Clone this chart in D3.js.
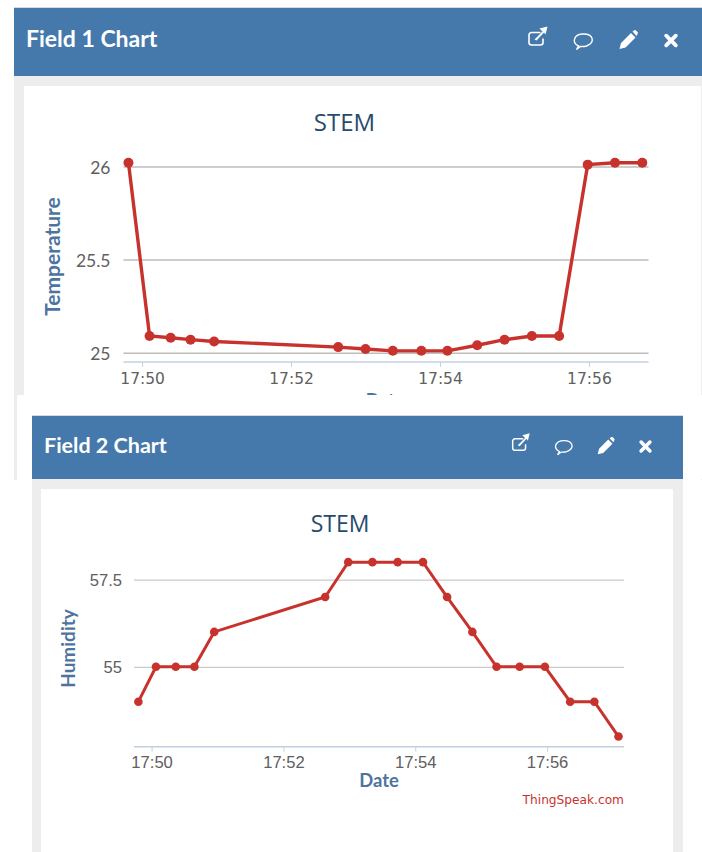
<!DOCTYPE html>
<html>
<head>
<meta charset="utf-8">
<script src="https://cdn.jsdelivr.net/npm/d3@7"></script>
<style>
  html, body { margin: 0; padding: 0; background: #fff; }
  svg { display: block; }
  .axis .domain { display: none; }
</style>
</head>
<body>
<div id="chart"></div>
<script>
// values
var field1Times = [ "17:49:49", "17:50:06", "17:50:23", "17:50:39", "17:50:58", "17:52:38", "17:53:00", "17:53:22", "17:53:45", "17:54:06", "17:54:30", "17:54:52", "17:55:14", "17:55:36", "17:55:59", "17:56:21", "17:56:43" ];
var field1Values = [ 26.02, 25.09, 25.08, 25.07, 25.06, 25.03, 25.02, 25.01, 25.01, 25.01, 25.04, 25.07, 25.09, 25.09, 26.01, 26.02, 26.02 ];
var field1Ticks = [ 25, 25.5, 26 ];

var field2Times = [ "17:49:48", "17:50:04", "17:50:22", "17:50:39", "17:50:57", "17:52:38", "17:52:59", "17:53:21", "17:53:44", "17:54:07", "17:54:29", "17:54:52", "17:55:14", "17:55:35", "17:55:58", "17:56:21", "17:56:43", "17:57:05" ];
var field2Values = [ 54, 55, 55, 55, 56, 57, 58, 58, 58, 58, 57, 56, 55, 55, 55, 54, 54, 53 ];
var field2Ticks = [ 55, 57.5 ];

var parseTime = d3.timeParse( "%H:%M:%S" );
var headerBlue = "#4679ab", panelGray = "#ededed", lineRed = "#c8322d", labelBlue = "#4d74a0";

var svg = d3.select( "#chart" ).append( "svg" )
  .attr( "width", 702 )
  .attr( "height", 852 );

// Header icons, drawn around their own centre.
function drawIcons( g, xs, cy, s ) {
  var share = g.append( "g" ).attr( "transform", "translate(" + xs[ 0 ] + "," + ( cy - 4 ) + ") scale(" + s + ")" );
  share.append( "path" )
    .attr( "d", "M3,-4 H-6 a2.5,2.5 0 0 0 -2.5,2.5 V6 a2.5,2.5 0 0 0 2.5,2.5 H3 a2.5,2.5 0 0 0 2.5,-2.5 V2" )
    .attr( "fill", "none" ).attr( "stroke", "white" ).attr( "stroke-width", 1.6 );
  share.append( "path" )
    .attr( "d", "M-3,3 L5,-5 L2,-8 L10,-10 L8,-2 L6.5,-4 L-1,4 Z" )
    .attr( "fill", "white" );

  var bubble = g.append( "g" ).attr( "transform", "translate(" + xs[ 1 ] + "," + cy + ") scale(" + s + ")" );
  bubble.append( "path" )
    .attr( "d", "M-5,5.5 C-12,2 -10,-6.5 0,-6.5 C10,-6.5 12,2 3,5.5 C0,6.3 -2,6 -3,6 L-7,9 Z" )
    .attr( "fill", "none" ).attr( "stroke", "white" ).attr( "stroke-width", 1.4 );

  var pencil = g.append( "g" ).attr( "transform", "translate(" + xs[ 2 ] + "," + cy + ") scale(" + s + ")" );
  pencil.append( "path" )
    .attr( "d", "M-8.5,8.5 L-7,2.5 L3,-7.5 L7.5,-3 L-2.5,7 Z M4.5,-9 L6,-10 a1.5,1.5 0 0 1 2,0 L9.5,-8.5 a1.5,1.5 0 0 1 0,2 L8.5,-4.5 Z" )
    .attr( "fill", "white" );

  var close = g.append( "g" ).attr( "transform", "translate(" + xs[ 3 ] + "," + cy + ") scale(" + s + ")" );
  close.append( "path" )
    .attr( "d", "M-4.8,-4.8 L4.8,4.8 M4.8,-4.8 L-4.8,4.8" )
    .attr( "stroke", "white" ).attr( "stroke-width", 3.8 ).attr( "stroke-linecap", "round" );
}

function drawPanel( o ) {
  var g = svg.append( "g" );

  g.append( "rect" )
    .attr( "x", o.left ).attr( "y", o.top - 1 )
    .attr( "width", o.right - o.left ).attr( "height", 1 )
    .style( "fill", "#d5dadf" );
  g.append( "rect" )
    .attr( "x", o.left ).attr( "y", o.top )
    .attr( "width", o.right - o.left ).attr( "height", o.headerBottom - o.top )
    .style( "fill", headerBlue );
  g.append( "rect" )
    .attr( "x", o.left ).attr( "y", o.headerBottom )
    .attr( "width", o.right - o.left ).attr( "height", o.bottom - o.headerBottom )
    .style( "fill", panelGray );
  g.append( "rect" )
    .attr( "x", o.innerLeft ).attr( "y", o.headerBottom + 10 )
    .attr( "width", o.innerRight - o.innerLeft ).attr( "height", o.bottom - o.headerBottom - 10 )
    .style( "fill", "white" );

  g.append( "text" )
    .attr( "x", o.headerX ).attr( "y", o.headerY )
    .style( "font-family", "Lato" )
    .style( "font-weight", "bold" )
    .style( "font-size", o.headerSize + "px" )
    .style( "fill", "white" )
    .text( o.name );

  drawIcons( g, o.iconX, o.iconY, o.iconScale );

  // Defining the scales
  var x = d3.scaleTime().domain( o.xDomain.map( parseTime ) ).range( o.xRange );
  var y = d3.scaleLinear().domain( o.yDomain ).range( o.yRange );

  var grid = g.append( "g" )
    .attr( "class", "axis" )
    .attr( "transform", "translate(" + o.xRange[ 0 ] + ",0)" )
    .call( d3.axisLeft( y )
      .tickValues( o.yTicks )
      .tickSize( -( o.xRange[ 1 ] - o.xRange[ 0 ] ) )
      .tickPadding( o.yPad )
      .tickFormat( d3.format( "" ) ) );
  grid.selectAll( "line" )
    .style( "stroke", "#bdbdbd" )
    .style( "stroke-width", o.gridWidth );
  grid.selectAll( "text" )
    .attr( "dy", o.yDy )
    .style( "font-family", o.yFont )
    .style( "font-size", o.yTickSize + "px" )
    .style( "fill", "#606060" );

  var xAxis = g.append( "g" )
    .attr( "class", "axis" )
    .attr( "transform", "translate(0," + o.axisY + ")" )
    .call( d3.axisBottom( x )
      .ticks( d3.timeMinute.every( 2 ) )
      .tickSize( 5 )
      .tickPadding( o.xPad )
      .tickFormat( d3.timeFormat( "%H:%M" ) ) );
  xAxis.selectAll( "line" ).style( "stroke", "#c0d0e0" );
  xAxis.selectAll( "text" )
    .style( "font-family", o.xFont )
    .style( "font-size", o.xTickSize + "px" )
    .style( "fill", "#606060" );

  g.append( "line" )
    .attr( "x1", o.xRange[ 0 ] ).attr( "x2", o.xRange[ 1 ] )
    .attr( "y1", o.axisY ).attr( "y2", o.axisY )
    .style( "stroke", "#c0d0e0" )
    .style( "stroke-width", 1.5 );

  g.append( "text" )
    .attr( "x", o.titleX ).attr( "y", o.titleY )
    .attr( "text-anchor", "middle" )
    .style( "font-family", "Open Sans" )
    .style( "font-size", o.titleSize + "px" )
    .style( "fill", "#274b6d" )
    .text( "STEM" );

  g.append( "text" )
    .attr( "transform", "translate(" + o.yLabelX + "," + o.yLabelY + ") rotate(-90)" )
    .attr( "text-anchor", "middle" )
    .style( "font-family", "Lato" )
    .style( "font-weight", "bold" )
    .style( "font-size", o.labelSize + "px" )
    .style( "fill", labelBlue )
    .text( o.yLabel );

  g.append( "text" )
    .attr( "x", o.dateX ).attr( "y", o.dateY )
    .attr( "text-anchor", "middle" )
    .style( "font-family", "Lato" )
    .style( "font-weight", "bold" )
    .style( "font-size", o.dateSize + "px" )
    .style( "fill", labelBlue )
    .text( "Date" );

  // Binding data
  var points = o.times.map( function( t, i ) {
    return { time: parseTime( t ), value: o.values[ i ] };
  } );

  var line = d3.line()
    .x( d => x( d.time ) )
    .y( d => y( d.value ) );

  g.append( "path" )
    .datum( points )
    .attr( "d", line )
    .style( "fill", "none" )
    .style( "stroke", lineRed )
    .style( "stroke-width", o.lineWidth );

  g.selectAll( ".point" )
    .data( points )
    .enter()
    .append( "circle" )
      .attr( "class", "point" )
      .attr( "cx", d => x( d.time ) )
      .attr( "cy", d => y( d.value ) )
      .attr( "r", o.radius )
      .style( "fill", lineRed );

  return g;
}

drawPanel( {
  name: "Field 1 Chart", yLabel: "Temperature",
  times: field1Times, values: field1Values, yTicks: field1Ticks,
  left: 14, right: 702, top: 8, headerBottom: 76, bottom: 480, innerLeft: 24, innerRight: 701,
  headerX: 26, headerY: 47, headerSize: 23,
  iconX: [ 537.5, 583.5, 628, 671 ], iconY: 40.5, iconScale: 1,
  xDomain: [ "17:49:45", "17:56:48" ], xRange: [ 123.5, 648.5 ],
  yDomain: [ 25, 26 ], yRange: [ 352.7, 166.5 ],
  axisY: 362, gridWidth: 1.5, yPad: 13, yDy: ".38em", yFont: "Lato", yTickSize: 17.5,
  xFont: "DejaVu Sans", xTickSize: 15.5, xPad: 6,
  titleX: 344.5, titleY: 131, titleSize: 24,
  yLabelX: 60, yLabelY: 256.5, labelSize: 21, dateX: 385, dateSize: 18, dateY: 407,
  lineWidth: 3.4, radius: 5
} );

// White margin of the second screenshot sits over the first panel.
svg.append( "rect" )
  .attr( "x", 17 ).attr( "y", 395 )
  .attr( "width", 678 ).attr( "height", 90 )
  .style( "fill", "white" );
svg.append( "rect" )
  .attr( "x", 14 ).attr( "y", 480 )
  .attr( "width", 688 ).attr( "height", 372 )
  .style( "fill", "white" );
svg.append( "rect" )
  .attr( "x", 695 ).attr( "y", 395 )
  .attr( "width", 7 ).attr( "height", 84 )
  .style( "fill", "white" );

drawPanel( {
  name: "Field 2 Chart", yLabel: "Humidity",
  times: field2Times, values: field2Values, yTicks: field2Ticks,
  left: 32, right: 683, top: 416, headerBottom: 479, bottom: 852, innerLeft: 41, innerRight: 673,
  headerX: 44, headerY: 453, headerSize: 21.5,
  iconX: [ 520.5, 564, 605.5, 645.5 ], iconY: 446.5, iconScale: 0.92,
  xDomain: [ "17:49:44", "17:57:10" ], xRange: [ 134, 624 ],
  yDomain: [ 55, 57.5 ], yRange: [ 666.8, 579.6 ],
  axisY: 746.7, gridWidth: 1, yPad: 12, yDy: ".36em", yFont: "Liberation Sans", yTickSize: 16.6,
  xFont: "Liberation Sans", xTickSize: 16.6, xPad: 5,
  titleX: 340, titleY: 532, titleSize: 23,
  yLabelX: 75, yLabelY: 648.5, labelSize: 19, dateX: 379, dateSize: 18.4, dateY: 787,
  lineWidth: 3, radius: 4.3
} );

svg.append( "text" )
  .attr( "x", 624 ).attr( "y", 804 )
  .attr( "text-anchor", "end" )
  .style( "font-family", "DejaVu Sans" )
  .style( "font-size", "12.2px" )
  .style( "fill", "#c8322d" )
  .text( "ThingSpeak.com" );
</script>
</body>
</html>
